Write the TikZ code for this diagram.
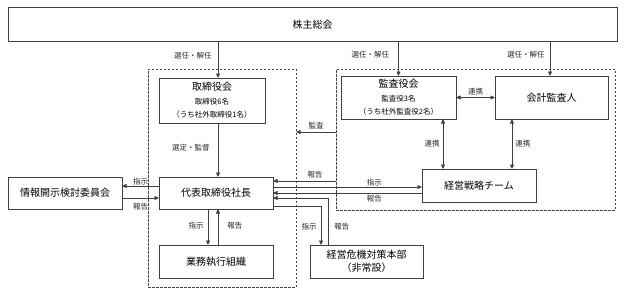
\documentclass[tikz,border=0pt]{standalone}
\usepackage{fontspec}
\setmainfont{Noto Sans CJK JP}
\usetikzlibrary{arrows.meta}
\tikzset{
  box/.style={draw=black!75,line width=0.7pt,inner sep=0pt,outer sep=0pt,align=center,font=\fontsize{10}{13}\selectfont},
  frame/.style={draw=black!75,line width=0.7pt,dash pattern=on 2.5pt off 1.5pt,inner sep=0pt,outer sep=0pt},
  lbl/.style={font=\fontsize{7.5}{9}\selectfont,inner sep=1pt,text=black!85},
  link/.style={draw=black!75,line width=0.7pt,>={Triangle[length=4.5pt,width=4pt]}},
}
\newcommand{\smalltxt}{\fontsize{7.5}{9}\selectfont}
\begin{document}
\begin{tikzpicture}[x=1pt,y=-1pt]
  \useasboundingbox (0,0) rectangle (624,295);
  \node[frame,minimum width=148pt,minimum height=218pt] (frL) at (222,178) {};
  \node[frame,minimum width=279pt,minimum height=141pt] (frR) at (475.5,139.5) {};
  \node[box,minimum width=609pt,minimum height=34pt] (gm) at (312.5,24.5) {株主総会};
  \node[box,minimum width=106pt,minimum height=45pt] (bod) at (212,100.5) {取締役会\\[1pt]\smalltxt 取締役6名\\\smalltxt（うち社外取締役1名）};
  \node[box,minimum width=115pt,minimum height=43pt] (asb) at (398.5,97.5) {監査役会\\[1pt]\smalltxt 監査役3名\\\smalltxt（うち社外監査役2名）};
  \node[box,minimum width=113pt,minimum height=43pt] (aud) at (551.5,97.5) {会計監査人};
  \node[box,minimum width=114pt,minimum height=32pt] (ceo) at (216,193) {代表取締役社長};
  \node[box,minimum width=114pt,minimum height=32pt] (dis) at (65,193) {情報開示検討委員会};
  \node[box,minimum width=114pt,minimum height=33pt] (ops) at (216,261.5) {業務執行組織};
  \node[box,minimum width=114pt,minimum height=33pt] (str) at (479,185.5) {経営戦略チーム};
  \node[box,minimum width=113pt,minimum height=33pt] (cri) at (366.5,261.5) {経営危機対策本部\\（非常設）};
  \coordinate (bodin) at ([xshift=6pt]bod.north);
  \coordinate (bodout) at ([xshift=6pt]bod.south);
  \coordinate (audit) at ([yshift=7.5pt]frR.west);
  \coordinate (rep) at ([yshift=12pt]ceo.east);
  \draw[link,->] (bodin |- gm.south) -- (bodin) node[lbl,pos=0.38,left=5pt] {選任・解任};
  \draw[link,->] (gm.south -| asb.north) -- (asb.north) node[lbl,pos=0.38,left=8pt] {選任・解任};
  \draw[link,->] ([xshift=-1.5pt]aud.north |- gm.south) -- ([xshift=-1.5pt]aud.north) node[lbl,pos=0.38,left=4pt] {選任・解任};
  \draw[link,->] (bodout) -- (bodout |- ceo.north) node[lbl,pos=0.46,left=7pt] {選定・監督};
  \draw[link,->] (audit) -- (audit -| frL.east) node[lbl,midway,above=2pt] {監査};
  \draw[link,->] ([yshift=7pt]ceo.west) -- ([yshift=7pt]dis.east) node[lbl,midway,above=0pt] {指示};
  \draw[link,->] ([yshift=-5pt]dis.east) -- ([yshift=-5pt]ceo.west) node[lbl,midway,below=4pt] {報告};
  \draw[link,->] ([xshift=-8pt]ceo.south) -- ([xshift=-8pt]ops.north) node[lbl,pos=0.47,left=3pt] {指示};
  \draw[link,->] ([xshift=2pt]ops.north) -- ([xshift=2pt]ceo.south) node[lbl,pos=0.53,right=8pt] {報告};
  \draw[link,<->] (asb.east) -- (aud.west) node[lbl,midway,above=1pt] {連携};
  \draw[link,<->] ([xshift=44.5pt]asb.south) -- ([xshift=-36pt]str.north) node[lbl,midway,left=2pt] {連携};
  \draw[link,<->] ([xshift=-39.5pt]aud.south) -- ([xshift=33pt]str.north) node[lbl,midway,right=2pt] {連携};
  \draw[link,->] (rep -| frR.west) -- (rep) node[lbl,pos=0.33,above=1pt] {報告};
  \draw[link,->] ([yshift=6pt]ceo.east) -- ([yshift=-1.5pt]str.west) node[lbl,pos=0.68,above=0pt] {指示};
  \draw[link,->] ([yshift=-7.5pt]str.west) -- (ceo.east) node[lbl,pos=0.32,below=1pt] {報告};
  \draw[link,->] ([xshift=-38.5pt]cri.north) |- ([yshift=-5pt]ceo.east) node[lbl,pos=0.19,right=5pt] {報告};
  \draw[link,->] ([yshift=-13pt]ceo.east) -| ([xshift=-45.5pt]cri.north) node[lbl,pos=0.77,left=3pt] {指示};
\end{tikzpicture}
\end{document}
